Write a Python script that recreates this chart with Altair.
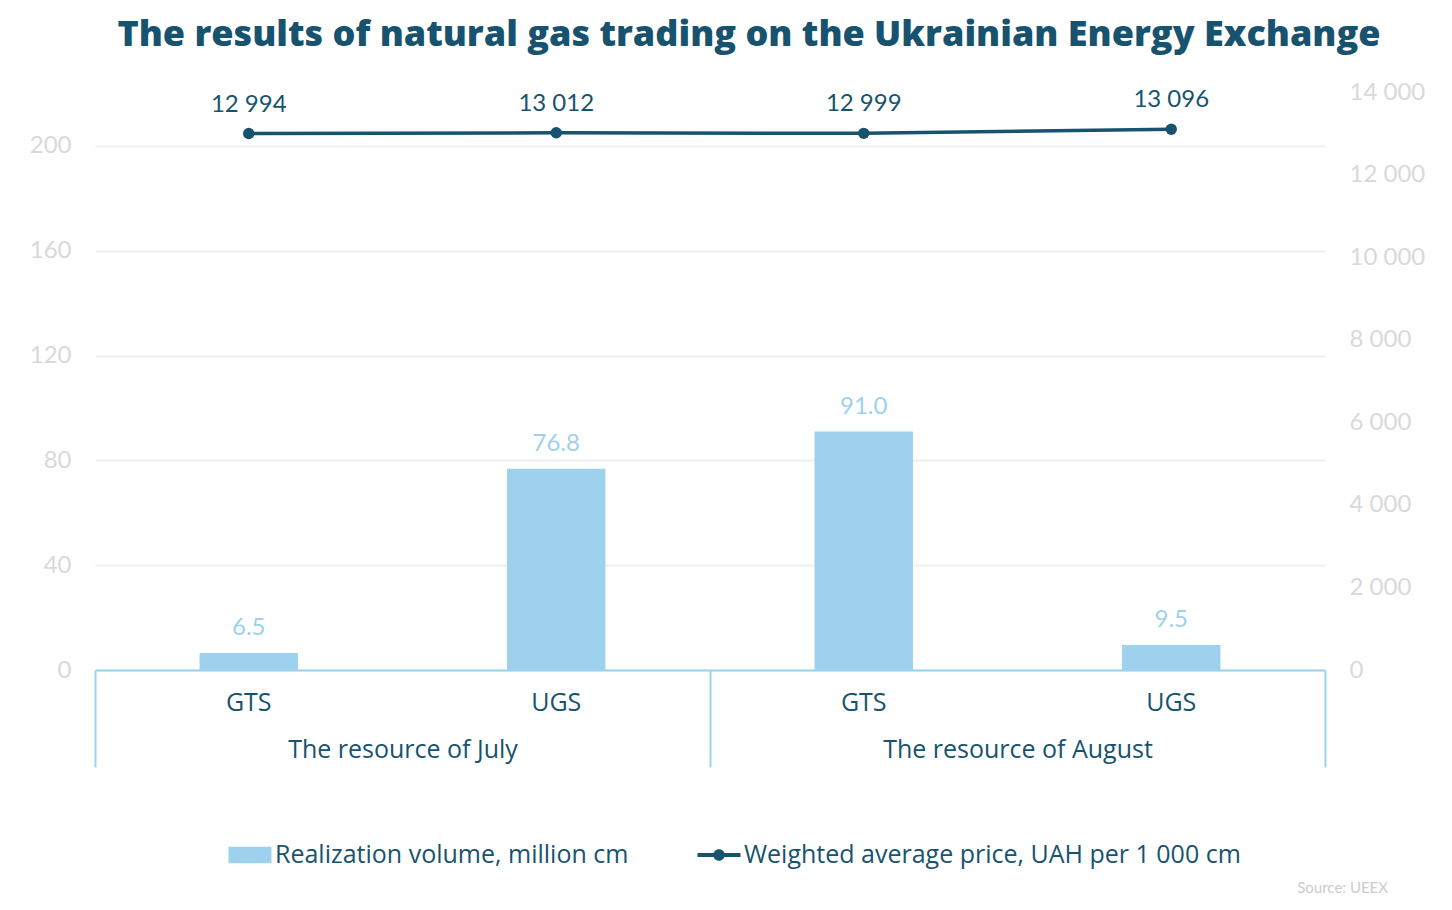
import altair as alt
import pandas as pd

# ---- data ----
groups = ["The resource of July", "The resource of July",
          "The resource of August", "The resource of August"]
resources = ["GTS", "UGS", "GTS", "UGS"]
volume = [6.5, 76.8, 91.0, 9.5]
price = [12994, 13012, 12999, 13096]
left_ticks = [0, 40, 80, 120, 160, 200]
right_ticks = [0, 2000, 4000, 6000, 8000, 10000, 12000, 14000]
series_names = ["Realization volume, million cm", "Weighted average price, UAH per 1 000 cm"]
group_order = ["The resource of July", "The resource of August"]
source_text = "Source: UEEX"

keys = [f"{g}|{r}" for g, r in zip(groups, resources)]
df = pd.DataFrame({
    "key": keys, "group": groups, "resource": resources,
    "volume": volume, "price": price,
    "series": series_names[0],
    "plabel": [f"{p:,}".replace(",", " ") for p in price],
})

LIGHT = "#9dd1ee"
DARK = "#17536f"
GRAYLBL = "#d9d9d9"
FONT = "Lato"
TFONT = "Open Sans"
FS = 24
TFS = 25

x_enc = alt.X(
    "key:N", sort=keys, title=None,
    scale=alt.Scale(paddingInner=0.68, paddingOuter=0.34),
    axis=alt.Axis(orient="bottom", labelExpr="split(datum.value, '|')[1]",
                  domain=True, domainColor=LIGHT, domainWidth=2,
                  ticks=False, grid=False, labelAngle=0, labelLimit=0,
                  labelFontSize=TFS, labelColor=DARK, labelFont=TFONT,
                  labelPadding=20),
)

y_left = alt.Y(
    "volume:Q", title=None,
    scale=alt.Scale(domain=[0, 220.6], nice=False, zero=True),
    axis=alt.Axis(orient="left", values=left_ticks, domain=False, ticks=False,
                  grid=True, gridColor="#efefef", gridWidth=2,
                  labelColor=GRAYLBL, labelFontSize=FS, labelFont=FONT,
                  labelPadding=24),
)

y_right = alt.Y(
    "price:Q", title=None,
    scale=alt.Scale(domain=[0, 14000], nice=False),
    axis=alt.Axis(orient="right", values=right_ticks, domain=False, ticks=False,
                  grid=False, labelColor=GRAYLBL, labelFontSize=FS, labelFont=FONT,
                  labelPadding=24, labelLimit=0,
                  labelExpr="replace(format(datum.value, ','), ',', ' ')"),
)

legend_shape = (
    "datum.index == 0 ? 'M-1,-0.38L1,-0.38L1,0.38L-1,0.38Z' : "
    "'M-1,-0.09L1,-0.09L1,0.09L-1,0.09Z M0.27,0A0.27,0.27,0,1,1,-0.27,0A0.27,0.27,0,1,1,0.27,0Z'"
)

base = alt.Chart(df)

bars = base.mark_bar(color=LIGHT).encode(
    x=x_enc, y=y_left,
    color=alt.Color(
        "series:N",
        scale=alt.Scale(domain=series_names, range=[LIGHT, DARK]),
        legend=alt.Legend(
            title=None, orient="none", direction="horizontal",
            legendX=133, legendY=741,
            labelFontSize=TFS, labelColor=DARK, labelFont=TFONT, labelLimit=0,
            symbolSize=1850, labelOffset=3, columnPadding=68,
            symbolStrokeWidth=0,
            symbolType=alt.ExprRef(expr=legend_shape),
        ),
    ),
)

bar_labels = base.mark_text(color=LIGHT, fontSize=FS, font=FONT, baseline="middle", dy=-25).encode(
    x=x_enc, y=y_left, text=alt.Text("volume:Q", format=".1f"),
)

line = base.mark_line(color=DARK, strokeWidth=3.5).encode(x=x_enc, y=y_right)
points = base.mark_point(color=DARK, filled=True, opacity=1, size=130).encode(x=x_enc, y=y_right)
price_labels = base.mark_text(color=DARK, fontSize=FS, font=FONT, baseline="middle", dy=-29).encode(
    x=x_enc, y=y_right, text="plabel:N",
)

left_layer = alt.layer(bars, bar_labels)
right_layer = alt.layer(line, points, price_labels)
main = alt.layer(left_layer, right_layer).resolve_scale(y="independent")

grp_df = pd.DataFrame({"group": group_order})
group_layer = alt.Chart(grp_df).mark_text(text="").encode(
    x=alt.X("group:N", sort=group_order, title=None,
            scale=alt.Scale(paddingInner=0, paddingOuter=0),
            axis=alt.Axis(orient="bottom", domain=False, ticks=True, tickBand="extent",
                          tickColor=LIGHT, tickWidth=2, tickSize=97, grid=False,
                          labelAngle=0, labelFontSize=TFS, labelColor=DARK, labelFont=TFONT,
                          labelLimit=0, labelPadding=-30)),
)

src_df = pd.DataFrame({"t": [source_text]})
source = alt.Chart(src_df).mark_text(
    align="right", baseline="middle", fontSize=15, font=FONT, color="#cccccc"
).encode(text="t:N", x=alt.value(1293), y=alt.value(796))

chart = alt.layer(main, group_layer, source).resolve_scale(
    x="independent", y="independent"
).properties(
    width=1230, height=578,
    autosize=alt.AutoSizeParams(type="none"),
    padding={"left": 87, "top": 84, "right": 119, "bottom": 232},
    background="white",
    title=alt.TitleParams(
        "The results of natural gas trading on the Ukrainian Energy Exchange",
        fontSize=36, font=TFONT, fontWeight=800, color=DARK, anchor="middle",
        offset=26, dx=39, limit=0,
    ),
).configure_view(stroke=None)

chart.save("out.html", embed_options={"renderer": "svg", "actions": False})
